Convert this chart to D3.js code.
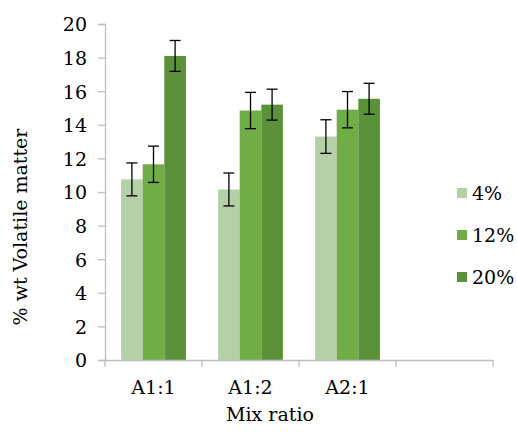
<!DOCTYPE html>
<html><head><meta charset="utf-8">
<script src="https://cdn.jsdelivr.net/npm/d3@7"></script>
<style>body{margin:0;background:#fff}svg{display:block}</style>
</head><body>
<script>
const categories = ["A1:1", "A1:2", "A2:1", ""];
const seriesNames = ["4%", "12%", "20%"];
const values4 = [10.75, 10.15, 13.3];
const values12 = [11.65, 14.85, 14.9];
const values20 = [18.1, 15.2, 15.55];
const err4 = [0.98, 0.98, 1.0];
const err12 = [1.08, 1.08, 1.08];
const err20 = [0.92, 0.92, 0.92];
const yTicks = [0, 2, 4, 6, 8, 10, 12, 14, 16, 18, 20];
const colors = ["#b5cfa7", "#70ad47", "#5b9139"];

const FONT = "DejaVu Serif";
const FS = 19;
const W = 517, H = 432;
const svg = d3.select("body").append("svg").attr("width", W).attr("height", H);

const x0 = d3.scaleBand().domain(categories).range([105, 493]).paddingInner(0).paddingOuter(0);
const x1 = d3.scaleBand().domain(seriesNames).range([0, x0.bandwidth()]).paddingInner(0).paddingOuter(0.745);
const y = d3.scaleLinear().domain([0, 20]).range([360, 24]);

const vals = [values4, values12, values20];
const errs = [err4, err12, err20];
const data = [];
categories.slice(0, 3).forEach((c, i) => {
  seriesNames.forEach((s, j) => data.push({c, s, j, v: vals[j][i], e: errs[j][i]}));
});

const yAxis = d3.axisLeft(y).tickValues(yTicks).tickSize(7).tickPadding(11);
const gy = svg.append("g").attr("transform", "translate(105,0)").call(yAxis);
gy.attr("font-family", FONT).attr("font-size", FS);
gy.select(".domain").attr("stroke", "#bfbfbf").attr("stroke-width", 1.3);
gy.selectAll(".tick line").attr("stroke", "#bfbfbf").attr("stroke-width", 1.3);
gy.selectAll(".tick text").attr("fill", "#000").attr("dy", "0.36em");

svg.append("g").selectAll("rect").data(data).join("rect")
  .attr("x", d => x0(d.c) + x1(d.s))
  .attr("y", d => y(d.v))
  .attr("width", x1.bandwidth())
  .attr("height", d => y(0) - y(d.v))
  .attr("fill", d => colors[d.j]);

const xAxis = d3.axisBottom(x0).tickSize(0).tickPadding(21);
const gx = svg.append("g").attr("transform", "translate(0,360)").call(xAxis);
gx.attr("font-family", FONT).attr("font-size", FS);
gx.select(".domain").attr("stroke", "#bfbfbf").attr("stroke-width", 1.3);
gx.selectAll(".tick text").attr("fill", "#000");
const bounds = categories.map(c => x0(c)).concat([x0.range()[1]]);
gx.append("g").selectAll("line").data(bounds).join("line")
  .attr("x1", d => d).attr("x2", d => d).attr("y1", 0).attr("y2", 7)
  .attr("stroke", "#bfbfbf").attr("stroke-width", 1.3);

const eg = svg.append("g").attr("stroke", "#000").attr("stroke-width", 1.3);
data.forEach(d => {
  const cx = x0(d.c) + x1(d.s) + x1.bandwidth() / 2;
  eg.append("line").attr("x1", cx).attr("x2", cx).attr("y1", y(d.v + d.e)).attr("y2", y(d.v - d.e));
  eg.append("line").attr("x1", cx - 5.5).attr("x2", cx + 5.5).attr("y1", y(d.v + d.e)).attr("y2", y(d.v + d.e));
  eg.append("line").attr("x1", cx - 5.5).attr("x2", cx + 5.5).attr("y1", y(d.v - d.e)).attr("y2", y(d.v - d.e));
});

svg.append("text").attr("x", 270).attr("y", 421).attr("text-anchor", "middle").attr("font-size", FS).attr("font-family", FONT).text("Mix ratio");
svg.append("text").attr("transform", "translate(27,227) rotate(-90)").attr("text-anchor", "middle").attr("font-size", FS).attr("font-family", FONT).text("% wt Volatile matter");

const lg = svg.append("g").selectAll("g").data(seriesNames).join("g")
  .attr("transform", (d, i) => `translate(457,${193 + i * 42})`);
lg.append("rect").attr("x", 0).attr("y", -5).attr("width", 10).attr("height", 10).attr("fill", (d, i) => colors[i]);
lg.append("text").attr("x", 15).attr("dy", "0.36em").attr("font-size", FS).attr("font-family", FONT).text(d => d);
</script>
</body></html>
